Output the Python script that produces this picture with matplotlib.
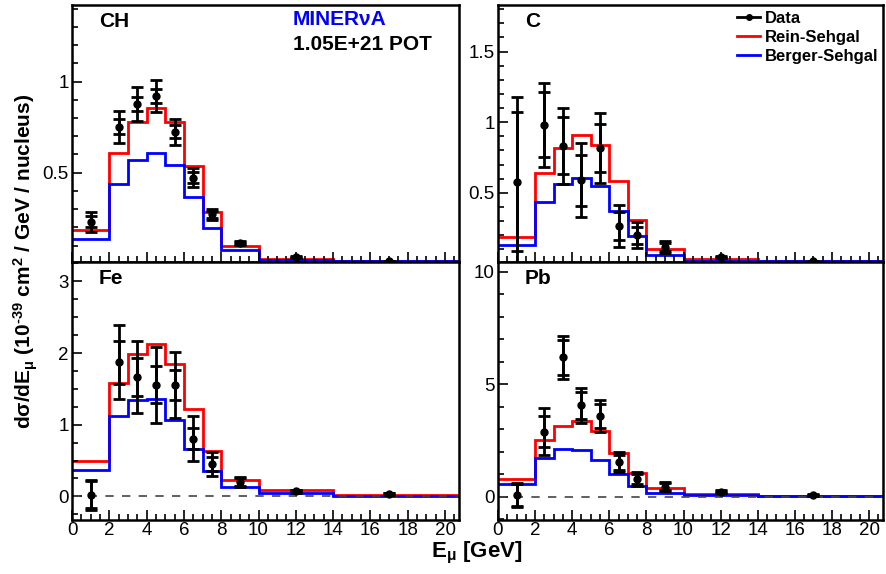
#!/usr/bin/env python3
# Coherent pion cross sections vs muon energy for four nuclear targets.

import numpy as np
import matplotlib
matplotlib.use("Agg")
import matplotlib.pyplot as plt
from matplotlib.lines import Line2D
from matplotlib.ticker import MultipleLocator

plt.rcParams["font.family"] = ["Liberation Sans", "DejaVu Sans"]
plt.rcParams["mathtext.fontset"] = "custom"
plt.rcParams["mathtext.rm"] = "Liberation Sans:bold"
plt.rcParams["mathtext.it"] = "Liberation Sans:bold"
plt.rcParams["mathtext.bf"] = "Liberation Sans:bold"
plt.rcParams["mathtext.default"] = "rm"

# Binning (GeV) and data point positions.
bin_edges = [0, 2, 3, 4, 5, 6, 7, 8, 10, 14, 22]
data_x = [1, 2.5, 3.5, 4.5, 5.5, 6.5, 7.5, 9, 12, 17]

# CH
ch_rs = [0.186, 0.61, 0.78, 0.857, 0.778, 0.537, 0.283, 0.099, 0.029, 0.015]
ch_bs = [0.136, 0.439, 0.572, 0.61, 0.544, 0.366, 0.195, 0.075, 0.022, 0.015]
ch_data = [0.232, 0.752, 0.877, 0.921, 0.724, 0.472, 0.272, 0.114, 0.037, 0.015]
ch_tot = [0.055, 0.089, 0.091, 0.088, 0.072, 0.053, 0.03, 0.01, 0.004, 0.002]
ch_stat = [0.03, 0.04, 0.04, 0.04, 0.035, 0.03, 0.02, 0.007, 0.003, 0.001]

# C
c_rs = [0.187, 0.64, 0.82, 0.908, 0.841, 0.585, 0.308, 0.102, 0.028, 0.014]
c_bs = [0.13, 0.438, 0.562, 0.607, 0.55, 0.372, 0.192, 0.059, 0.019, 0.014]
c_data = [0.58, 0.981, 0.834, 0.59, 0.818, 0.265, 0.2, 0.116, 0.043, 0.014]
c_tot = [0.6, 0.295, 0.27, 0.26, 0.25, 0.15, 0.09, 0.045, 0.008, 0.004]
c_stat = [0.49, 0.23, 0.2, 0.18, 0.17, 0.1, 0.06, 0.03, 0.005, 0.003]

# Fe
fe_rs = [0.498, 1.581, 1.99, 2.13, 1.85, 1.219, 0.637, 0.233, 0.084, 0.023]
fe_bs = [0.372, 1.116, 1.349, 1.358, 1.07, 0.665, 0.349, 0.13, 0.047, 0.01]
fe_data = [0.023, 1.874, 1.665, 1.558, 1.549, 0.805, 0.451, 0.2, 0.07, 0.033]
fe_tot = [0.21, 0.52, 0.5, 0.53, 0.46, 0.31, 0.17, 0.07, 0.02, 0.01]
fe_stat = [0.19, 0.3, 0.27, 0.26, 0.21, 0.15, 0.095, 0.05, 0.015, 0.008]

# Pb
pb_rs = [0.785, 2.52, 3.14, 3.38, 2.93, 1.93, 1.04, 0.37, 0.104, 0.03]
pb_bs = [0.563, 1.70, 2.12, 2.07, 1.63, 1.01, 0.49, 0.178, 0.06, 0.015]
pb_data = [0.074, 2.89, 6.19, 4.07, 3.59, 1.53, 0.785, 0.444, 0.22, 0.07]
pb_tot = [0.53, 1.05, 0.95, 0.78, 0.72, 0.44, 0.3, 0.2, 0.06, 0.03]
pb_stat = [0.5, 0.7, 0.78, 0.6, 0.53, 0.33, 0.22, 0.15, 0.04, 0.02]

legend_labels = ["Data", "Rein-Sehgal", "Berger-Sehgal"]

FIG_W, FIG_H = 886, 574


def frac_rect(x0, x1, ytop, ybot):
    # Pixel box to figure-fraction rectangle.
    return [x0 / FIG_W, 1 - ybot / FIG_H, (x1 - x0) / FIG_W, (ybot - ytop) / FIG_H]


def draw_panel(ax, rs, bs, data, tot, stat, ylim, minor, yticks,
               label, show_x, zero_line):
    ax.set_xlim(0, 20.75)
    ax.set_ylim(*ylim)

    if zero_line:
        ax.axhline(0, color="#444444", linestyle=(0, (5, 5)), linewidth=1.2)

    ax.stairs(rs, bin_edges, color="red", linewidth=2, baseline=None)
    ax.stairs(bs, bin_edges, color="blue", linewidth=2, baseline=None)

    # Outer bars: total uncertainty; inner caps: statistical only.
    ax.errorbar(data_x, data, yerr=tot, fmt="o", color="black", markersize=5,
                elinewidth=2, capsize=4, capthick=2)
    ax.errorbar(data_x, data, yerr=stat, fmt="none", ecolor="black",
                elinewidth=2, capsize=4, capthick=2)

    ax.xaxis.set_major_locator(MultipleLocator(2))
    ax.xaxis.set_minor_locator(MultipleLocator(0.5))
    ax.set_yticks(yticks)
    ax.set_yticklabels([f"{t:g}" for t in yticks])
    ax.yaxis.set_minor_locator(MultipleLocator(minor))

    ax.tick_params(which="both", direction="in", top=False, right=False,
                   labelsize=13.5, width=1.2, pad=2.5)
    ax.tick_params(axis="x", pad=1.5)
    ax.tick_params(which="major", length=7)
    ax.tick_params(which="minor", length=4)
    if not show_x:
        ax.tick_params(axis="x", labelbottom=False)

    for spine in ax.spines.values():
        spine.set_linewidth(1.8)

    ax.text(0.07, 0.935, label, transform=ax.transAxes, fontsize=15,
            fontweight="bold", ha="left", va="center")


fig = plt.figure(figsize=(FIG_W / 100, FIG_H / 100), dpi=100)

ax_ch = fig.add_axes(frac_rect(72, 459, 5, 262))
ax_c = fig.add_axes(frac_rect(498, 883, 5, 262))
ax_fe = fig.add_axes(frac_rect(72, 459, 262, 520))
ax_pb = fig.add_axes(frac_rect(498, 883, 262, 520))

draw_panel(ax_ch, ch_rs, ch_bs, ch_data, ch_tot, ch_stat, (0.01, 1.42),
           0.1, [0.5, 1], "CH", False, False)
draw_panel(ax_c, c_rs, c_bs, c_data, c_tot, c_stat, (0.01, 1.83),
           0.1, [0.5, 1, 1.5], "C", False, False)
draw_panel(ax_fe, fe_rs, fe_bs, fe_data, fe_tot, fe_stat, (-0.33, 3.27),
           0.25, [0, 1, 2, 3], "Fe", True, True)
draw_panel(ax_pb, pb_rs, pb_bs, pb_data, pb_tot, pb_stat, (-1.04, 10.43),
           1, [0, 5, 10], "Pb", True, True)

ax_ch.text(0.571, 0.942, "MINERνA", transform=ax_ch.transAxes, color="blue",
           fontsize=15, fontweight="bold", ha="left", va="center")
ax_ch.text(0.571, 0.845, "1.05E+21 POT", transform=ax_ch.transAxes,
           fontsize=15, fontweight="bold", ha="left", va="center")

handles = [
    Line2D([], [], color="black", marker="o", markersize=4, linewidth=2),
    Line2D([], [], color="red", linewidth=2),
    Line2D([], [], color="blue", linewidth=2),
]
ax_c.legend(handles, legend_labels, loc="upper left",
            bbox_to_anchor=(0.621, 0.978), frameon=False,
            prop={"weight": "bold", "size": 12}, handlelength=1.4,
            handletextpad=0.25, labelspacing=0.25, borderaxespad=0,
            borderpad=0)

fig.text(0.029, 0.544,
         "d$\\sigma$/dE$_{\\mu}$ (10$^{\u201039}$ cm$^{2}$ / GeV / nucleus)",
         rotation=90, fontsize=15, fontweight="bold", ha="center", va="center")
fig.text(0.538, 0.036, r"E$_{\mu}$ [GeV]", fontsize=16, fontweight="bold",
         ha="center", va="center")

fig.savefig("out.png", dpi=100)
